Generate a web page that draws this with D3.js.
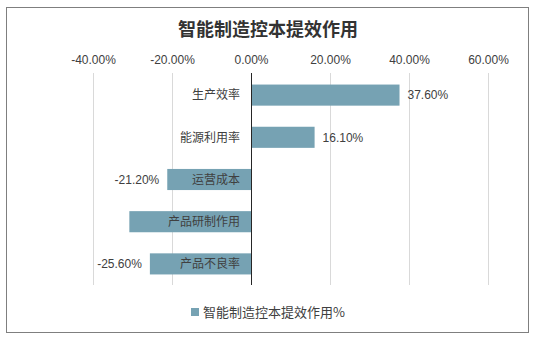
<!DOCTYPE html>
<html>
<head>
<meta charset="utf-8">
<script src="https://cdn.jsdelivr.net/npm/d3@7/dist/d3.min.js"></script>
<style>
  html, body { margin: 0; padding: 0; background: #fff; }
  svg { display: block; }
  text { font-family: "Liberation Sans", "Noto Sans CJK SC", sans-serif; }
</style>
</head>
<body>
<svg id="chart" width="544" height="341"></svg>
<script>
// Chart data
const title = "智能制造控本提效作用";
const seriesName = "智能制造控本提效作用%";
const categories = ["生产效率", "能源利用率", "运营成本", "产品研制作用", "产品不良率"];
const values = [37.6, 16.1, -21.2, -30.8, -25.6];
const showLabel = [true, true, true, false, true];
const tickValues = [-40, -20, 0, 20, 40, 60];

const svg = d3.select("#chart");
const W = 544, H = 341;
const margin = { left: 93, right: 56, top: 74, bottom: 56 };

const barColor = "#76a2b3";
const textColor = "#404040";

// outer frame
svg.append("rect")
  .attr("x", 6.5).attr("y", 7.5)
  .attr("width", 522).attr("height", 325)
  .attr("fill", "#fff").attr("stroke", "#7f7f7f").attr("stroke-width", 1);

const x = d3.scaleLinear().domain([-40, 60]).range([margin.left, W - margin.right]);
const y = d3.scaleBand().domain(categories).range([margin.top, H - margin.bottom]).paddingInner(0.5).paddingOuter(0.25);

// title
svg.append("text")
  .attr("x", 268).attr("y", 36)
  .attr("text-anchor", "middle")
  .attr("font-size", 18).attr("font-weight", "bold")
  .attr("fill", "#333")
  .style("font-family", "'Noto Sans CJK SC', sans-serif")
  .text(title);

// gridlines
svg.append("g").selectAll("line").data(tickValues.filter(d => d !== 0)).join("line")
  .attr("x1", d => x(d) + 0.5).attr("x2", d => x(d) + 0.5)
  .attr("y1", margin.top - 1).attr("y2", H - margin.bottom)
  .attr("stroke", "#d9d9d9").attr("stroke-width", 1);

// top axis tick labels
const axis = d3.axisTop(x).tickValues(tickValues).tickSize(0).tickPadding(0)
  .tickFormat(d => d.toFixed(2) + "%");
const gAxis = svg.append("g").attr("transform", `translate(0,${margin.top - 10})`).call(axis);
gAxis.select(".domain").remove();
gAxis.selectAll("text")
  .attr("font-size", 12).attr("fill", textColor)
  .style("font-family", "'Liberation Sans', sans-serif");

// bars
svg.append("g").selectAll("rect").data(categories).join("rect")
  .attr("x", (d, i) => x(Math.min(0, values[i])))
  .attr("y", d => y(d))
  .attr("width", (d, i) => Math.abs(x(values[i]) - x(0)))
  .attr("height", y.bandwidth())
  .attr("fill", barColor);

// zero axis line
svg.append("line")
  .attr("x1", x(0) + 0.5).attr("x2", x(0) + 0.5)
  .attr("y1", margin.top - 1).attr("y2", H - margin.bottom)
  .attr("stroke", "#262626").attr("stroke-width", 1);

// category labels next to the axis
svg.append("g").selectAll("text").data(categories).join("text")
  .attr("x", x(0) - 11)
  .attr("y", d => y(d) + y.bandwidth() / 2)
  .attr("dy", "0.35em")
  .attr("text-anchor", "end")
  .attr("font-size", 12).attr("fill", textColor)
  .style("font-family", "'Noto Sans CJK SC', sans-serif")
  .text(d => d);

// value labels
svg.append("g").selectAll("text").data(categories.filter((d, i) => showLabel[i])).join("text")
  .attr("x", d => {
    const v = values[categories.indexOf(d)];
    return v >= 0 ? x(v) + 8 : x(v) - 8;
  })
  .attr("y", d => y(d) + y.bandwidth() / 2)
  .attr("dy", "0.35em")
  .attr("text-anchor", d => values[categories.indexOf(d)] >= 0 ? "start" : "end")
  .attr("font-size", 12).attr("fill", textColor)
  .style("font-family", "'Liberation Sans', sans-serif")
  .text(d => values[categories.indexOf(d)].toFixed(2) + "%");

// legend
const lg = svg.append("g").attr("transform", "translate(191,308)");
lg.append("rect").attr("x", 0).attr("y", 0).attr("width", 8).attr("height", 8).attr("fill", barColor);
lg.append("text").attr("x", 12).attr("y", 4).attr("dy", "0.35em")
  .attr("font-size", 13).attr("fill", textColor)
  .style("font-family", "'Noto Sans CJK SC', sans-serif")
  .text(seriesName);
</script>
</body>
</html>
